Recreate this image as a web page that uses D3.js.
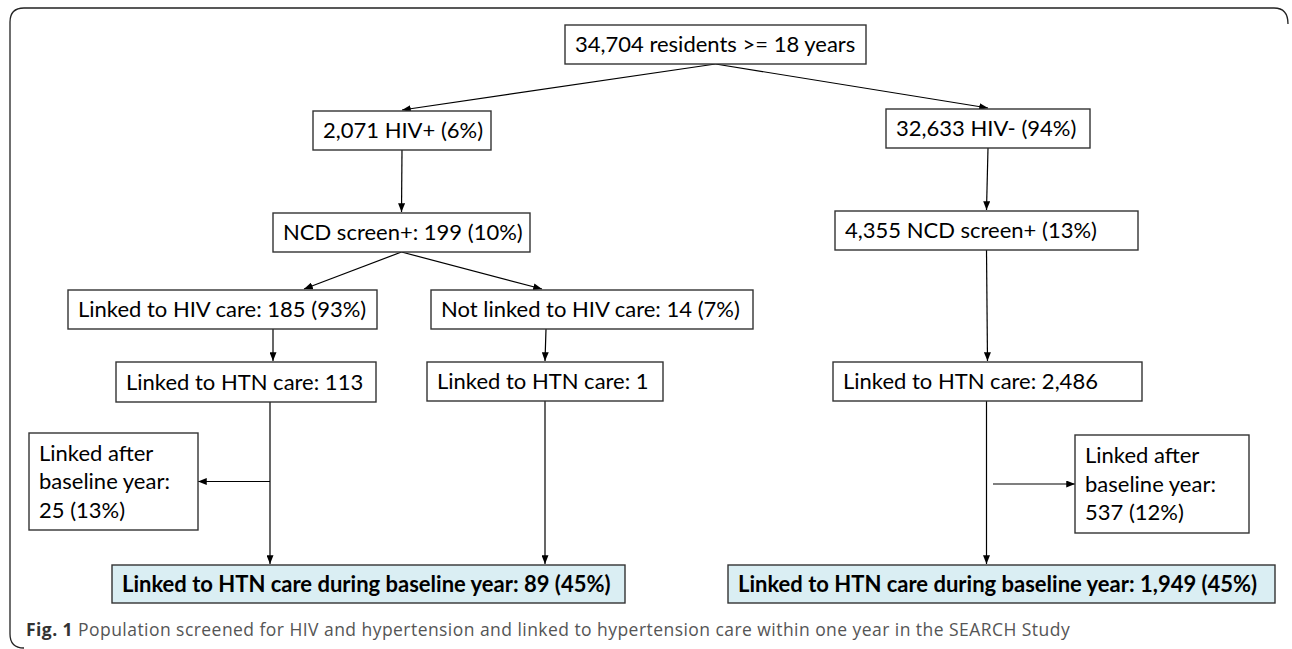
<!DOCTYPE html>
<html>
<head>
<meta charset="utf-8">
<script src="https://cdn.jsdelivr.net/npm/d3@7"></script>
<style>
  body { margin: 0; background: #fff; }
  svg { display: block; }
  .box text { font-family: Lato, "Noto Sans", sans-serif; font-size: 22px; fill: #000; }
  .box.final text { font-weight: bold; }
  .caption { font-family: "Open Sans", "Noto Sans", sans-serif; font-size: 17.5px; letter-spacing: 0.45px; fill: #555; }
</style>
</head>
<body>
<svg width="1292" height="649"></svg>
<script>
// flowchart content
var nodeIds = ["all", "hivPos", "hivNeg", "ncdPos", "ncdNeg", "linkedHiv", "notLinkedHiv",
  "htnA", "htnB", "htnC", "afterA", "afterC", "finalA", "finalC"];
var nodeLabels = [
  ["34,704 residents >= 18 years"],
  ["2,071 HIV+ (6%)"],
  ["32,633 HIV- (94%)"],
  ["NCD screen+: 199 (10%)"],
  ["4,355 NCD screen+ (13%)"],
  ["Linked to HIV care: 185 (93%)"],
  ["Not linked to HIV care: 14 (7%)"],
  ["Linked to HTN care: 113"],
  ["Linked to HTN care: 1"],
  ["Linked to HTN care: 2,486"],
  ["Linked after", "baseline year:", "25 (13%)"],
  ["Linked after", "baseline year:", "537 (12%)"],
  ["Linked to HTN care during baseline year: 89 (45%)"],
  ["Linked to HTN care during baseline year: 1,949 (45%)"]
];
var finalIds = ["finalA", "finalC"];
var linkFrom = ["all", "all", "hivPos", "hivNeg", "ncdPos", "ncdPos", "linkedHiv", "notLinkedHiv", "ncdNeg", "htnA", "htnB", "htnC"];
var linkTo   = ["hivPos", "hivNeg", "ncdPos", "ncdNeg", "linkedHiv", "notLinkedHiv", "htnA", "htnB", "htnC", "finalA", "finalA", "finalC"];
var sideFrom = ["htnA", "htnC"];
var sideTo   = ["afterA", "afterC"];
var captionBold = "Fig. 1";
var captionText = " Population screened for HIV and hypertension and linked to hypertension care within one year in the SEARCH Study";

// layout (page geometry, not data)
var layout = {
  all:          { x: 565, y: 25,  w: 301, h: 39 },
  hivPos:       { x: 313, y: 111, w: 178, h: 39 },
  hivNeg:       { x: 886, y: 109, w: 204, h: 39 },
  ncdPos:       { x: 273, y: 213, w: 257, h: 39 },
  ncdNeg:       { x: 835, y: 211, w: 303, h: 39 },
  linkedHiv:    { x: 68,  y: 290, w: 309, h: 39 },
  notLinkedHiv: { x: 431, y: 290, w: 322, h: 39 },
  htnA:         { x: 116, y: 362, w: 260, h: 40 },
  htnB:         { x: 427, y: 362, w: 236, h: 39 },
  htnC:         { x: 833, y: 362, w: 309, h: 39 },
  afterA:       { x: 29,  y: 433, w: 169, h: 97 },
  afterC:       { x: 1075, y: 435, w: 174, h: 98 },
  finalA:       { x: 112, y: 565, w: 513, h: 38 },
  finalC:       { x: 728, y: 565, w: 547, h: 38 }
};
// x positions of arrow ends where they are not box centres
var anchorOut = { "linkedHiv-htnA": 273, "notLinkedHiv-htnB": 546, "htnA-finalA": 270 };
var anchorIn = { "ncdPos-linkedHiv": 304, "ncdPos-notLinkedHiv": 542, "linkedHiv-htnA": 273, "htnA-finalA": 270, "htnB-finalA": 545 };
var sideStart = { htnA: 270, htnC: 993 };

var svg = d3.select("svg");

svg.append("defs").append("marker")
  .attr("id", "arrow")
  .attr("markerUnits", "userSpaceOnUse")
  .attr("viewBox", "0 0 10 8")
  .attr("refX", 10).attr("refY", 4)
  .attr("markerWidth", 9).attr("markerHeight", 7)
  .attr("orient", "auto")
  .append("path").attr("d", "M0,0L10,4L0,8Z").attr("fill", "#000");

// outer frame (right side cropped in original)
svg.append("path")
  .attr("d", "M1288,24 Q1288,8 1274,8 L24,8 Q10,8 10,22 L10,634 Q10,648 24,648")
  .attr("fill", "none").attr("stroke", "#222").attr("stroke-width", 1.3);

var cx = function(id) { return layout[id].x + layout[id].w / 2; };

var links = linkFrom.map(function(f, i) {
  var t = linkTo[i];
  var key = f + "-" + t;
  var sx = anchorOut[key] !== undefined ? anchorOut[key] : cx(f);
  var tx = anchorIn[key] !== undefined ? anchorIn[key] : cx(t);
  if (f === "htnC") tx = sx = cx(f) - 1;
  return { x1: sx, y1: layout[f].y + layout[f].h, x2: tx, y2: layout[t].y - 1 };
});

var sides = sideFrom.map(function(f, i) {
  var t = sideTo[i];
  var b = layout[t];
  var y = b.y + b.h / 2;
  var x2 = b.x > cx(f) ? b.x : b.x + b.w;
  return { x1: sideStart[f], y1: y, x2: x2, y2: y };
});

svg.append("g").selectAll("line")
  .data(links.concat(sides))
  .enter().append("line")
  .attr("x1", function(d) { return d.x1; })
  .attr("y1", function(d) { return d.y1; })
  .attr("x2", function(d) { return d.x2; })
  .attr("y2", function(d) { return d.y2; })
  .attr("stroke", "#000")
  .attr("stroke-width", 1.2)
  .attr("marker-end", "url(#arrow)");

var nodes = nodeIds.map(function(id, i) {
  return { id: id, lines: nodeLabels[i], final: finalIds.indexOf(id) >= 0, b: layout[id] };
});

var box = svg.append("g").selectAll("g")
  .data(nodes)
  .enter().append("g")
  .attr("class", function(d) { return d.final ? "box final" : "box"; })
  .attr("transform", function(d) { return "translate(" + d.b.x + "," + d.b.y + ")"; });

box.append("rect")
  .attr("width", function(d) { return d.b.w; })
  .attr("height", function(d) { return d.b.h; })
  .attr("fill", function(d) { return d.final ? "#daeef3" : "#fff"; })
  .attr("stroke", "#333")
  .attr("stroke-width", 1.4);

box.append("text")
  .attr("x", 10)
  .each(function(d) {
    var n = d.lines.length;
    var step = 28.5;
    var top = d.b.h / 2 - (n - 1) * step / 2;
    d3.select(this).selectAll("tspan")
      .data(d.lines)
      .enter().append("tspan")
      .attr("x", 10)
      .attr("y", function(l, j) { return top + j * step; })
      .attr("dy", "0.35em")
      .text(function(l) { return l; });
  });

var cap = svg.append("text")
  .attr("class", "caption")
  .attr("x", 26).attr("y", 636);
cap.append("tspan").attr("font-weight", "bold").attr("fill", "#333").text(captionBold);
cap.append("tspan").text(captionText);
</script>
</body>
</html>
